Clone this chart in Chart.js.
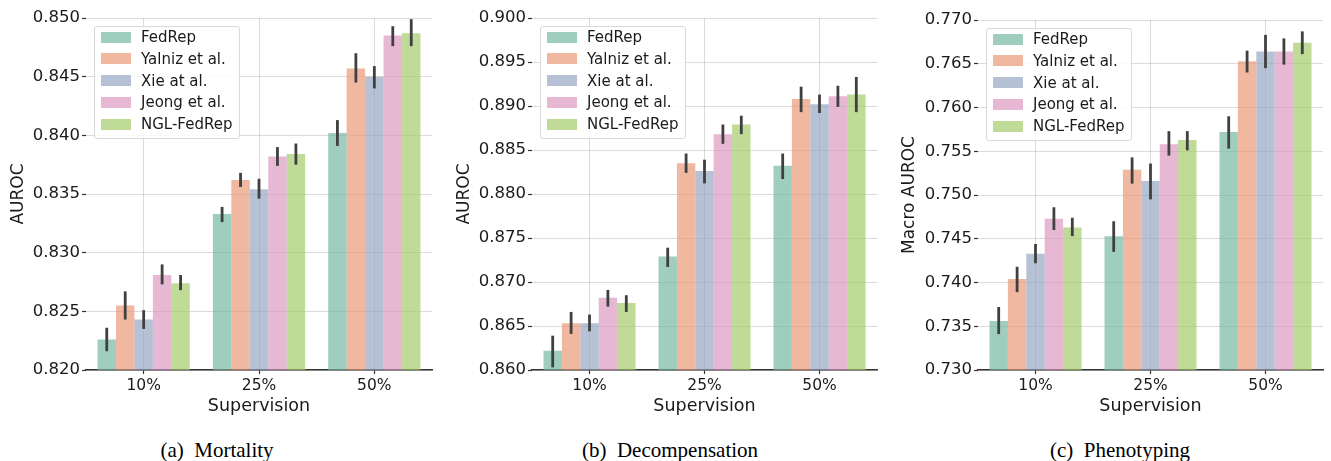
<!DOCTYPE html>
<html>
<head>
<meta charset="utf-8">
<script src="https://cdn.jsdelivr.net/npm/chart.js@4.4.0/dist/chart.umd.min.js"></script>
<style>
  body { margin: 0; background: #fff; width: 1331px; height: 461px; position: relative; overflow: hidden; font-family: "DejaVu Sans", sans-serif; }
  .panel { position: absolute; top: 0; height: 420px; }
  .legend { position: absolute; width: 146px; height: 113px; border: 1px solid #d9d9d9; border-radius: 3px; background: rgba(255,255,255,0.85); box-sizing: border-box; }
  .legend .sw { position: absolute; left: 6px; width: 30px; height: 11px; }
  .legend .tx { position: absolute; left: 46px; font-size: 15px; line-height: 18px; color: #1a1a1a; white-space: nowrap; }
  .caption { position: absolute; top: 439.7px; font: 21px "Liberation Serif", serif; line-height: 21px; white-space: pre; transform: translateX(-50%); color: #000; }
</style>
</head>
<body>
<div class="panel" style="left:0;width:440px"><canvas id="mortality"></canvas></div>
<div class="panel" style="left:440px;width:445px"><canvas id="decomp"></canvas></div>
<div class="panel" style="left:890px;width:441px"><canvas id="pheno"></canvas></div>
<div class="caption" style="left:217px">(a)  Mortality</div>
<div class="caption" style="left:670px">(b)  Decompensation</div>
<div class="caption" style="left:1120px">(c)  Phenotyping</div>

<script>
// categories and methods
const categories = ["10%", "25%", "50%"];
const methods = ["FedRep", "Yalniz et al.", "Xie at al.", "Jeong et al.", "NGL-FedRep"];
const colors = [
  "rgba(113,183,161,0.68)",
  "rgba(233,150,117,0.68)",
  "rgba(149,163,195,0.68)",
  "rgba(219,150,192,0.68)",
  "rgba(162,200,101,0.68)",
];

// (a) Mortality - one row per method
const mortalityMean = [
  [0.8226, 0.8333, 0.8402],
  [0.8255, 0.8362, 0.8457],
  [0.8243, 0.8354, 0.8450],
  [0.8281, 0.8382, 0.8485],
  [0.8274, 0.8384, 0.8487],
];
const mortalityLow = [
  [0.8216, 0.8326, 0.8391],
  [0.8243, 0.8356, 0.8445],
  [0.8235, 0.8346, 0.8440],
  [0.8273, 0.8374, 0.8476],
  [0.8268, 0.8375, 0.8476],
];
const mortalityHigh = [
  [0.8236, 0.8339, 0.8413],
  [0.8267, 0.8368, 0.8470],
  [0.8251, 0.8363, 0.8459],
  [0.8290, 0.8390, 0.8493],
  [0.8281, 0.8393, 0.8499],
];

// (b) Decompensation
const decompMean = [
  [0.8622, 0.8729, 0.8832],
  [0.8653, 0.8835, 0.8908],
  [0.8653, 0.8826, 0.8902],
  [0.8682, 0.8868, 0.8911],
  [0.8676, 0.8879, 0.8913],
];
const decompLow = [
  [0.8603, 0.8717, 0.8817],
  [0.8641, 0.8824, 0.8893],
  [0.8644, 0.8812, 0.8892],
  [0.8672, 0.8857, 0.8899],
  [0.8666, 0.8868, 0.8893],
];
const decompHigh = [
  [0.8639, 0.8739, 0.8846],
  [0.8666, 0.8846, 0.8922],
  [0.8663, 0.8839, 0.8913],
  [0.8691, 0.8879, 0.8923],
  [0.8685, 0.8889, 0.8933],
];

// (c) Phenotyping
const phenoMean = [
  [0.7356, 0.7453, 0.7572],
  [0.7404, 0.7529, 0.7653],
  [0.7433, 0.7516, 0.7664],
  [0.7473, 0.7558, 0.7664],
  [0.7463, 0.7563, 0.7674],
];
const phenoLow = [
  [0.7341, 0.7435, 0.7553],
  [0.7389, 0.7513, 0.7640],
  [0.7422, 0.7495, 0.7645],
  [0.7460, 0.7545, 0.7649],
  [0.7453, 0.7551, 0.7661],
];
const phenoHigh = [
  [0.7372, 0.7470, 0.7590],
  [0.7418, 0.7543, 0.7665],
  [0.7444, 0.7536, 0.7683],
  [0.7486, 0.7573, 0.7679],
  [0.7474, 0.7573, 0.7687],
];

// y axis ranges [min, max, step]
const mortalityRange = [0.82, 0.85, 0.005];
const decompRange = [0.86, 0.90, 0.005];
const phenoRange = [0.73, 0.77, 0.005];

// draws the confidence intervals on top of everything
const errorBars = {
  id: "errorBars",
  afterDraw(chart) {
    const ctx = chart.ctx;
    const y = chart.scales.y;
    ctx.save();
    ctx.strokeStyle = "#404040";
    ctx.lineWidth = 2.8;
    chart.data.datasets.forEach((ds, i) => {
      const meta = chart.getDatasetMeta(i);
      meta.data.forEach((bar, j) => {
        ctx.beginPath();
        ctx.moveTo(bar.x, y.getPixelForValue(ds.errLow[j]));
        ctx.lineTo(bar.x, y.getPixelForValue(ds.errHigh[j]));
        ctx.stroke();
      });
    });
    ctx.restore();
  },
};

function makeChart(id, mean, low, high, range, yTitle, yWidth, titlePad, padTop) {
  const ctx = document.getElementById(id).getContext("2d");
  const gridColor = "rgba(0,0,0,0.14)";
  const tickColor = "#333";
  const textColor = "#1a1a1a";

  new Chart(ctx, {
    type: "bar",
    data: {
      labels: categories,
      datasets: methods.map((m, i) => ({
        label: m,
        data: mean[i],
        errLow: low[i],
        errHigh: high[i],
        backgroundColor: colors[i],
        borderWidth: 0,
        categoryPercentage: 0.8,
        barPercentage: 1.0,
      })),
    },
    options: {
      responsive: true,
      maintainAspectRatio: false,
      animation: false,
      layout: { padding: { top: padTop, right: 8, left: 0, bottom: 0 } },
      plugins: { legend: { display: false }, tooltip: { enabled: false } },
      scales: {
        x: {
          z: 1,
          offset: true,
          grid: { offset: false, color: gridColor, tickColor: tickColor, tickLength: 4, tickWidth: 1.2 },
          border: { color: "#333", width: 1.5 },
          ticks: { color: textColor, font: { family: "DejaVu Sans", size: 15.5 }, padding: 3 },
          title: {
            display: true, text: "Supervision", color: textColor,
            font: { family: "DejaVu Sans", size: 17.5 }, padding: { top: 0, bottom: 3.5 },
          },
          afterFit: (s) => { s.height = 50; },
        },
        y: {
          z: 1,
          min: range[0],
          max: range[1],
          grid: { color: gridColor, tickColor: tickColor, tickLength: 4, tickWidth: 1.2 },
          border: { display: false },
          ticks: {
            stepSize: range[2],
            color: textColor,
            font: { family: "DejaVu Sans", size: 16.5 },
            padding: 2,
            callback: (v) => v.toFixed(3),
          },
          title: {
            display: true, text: yTitle, color: textColor,
            font: { family: "DejaVu Sans", size: 17 }, padding: { top: titlePad, bottom: 0 },
          },
          afterFit: (s) => { s.width = yWidth; },
        },
      },
    },
    plugins: [errorBars],
  });

  // legend box in the upper left of the plot area
  const panel = document.getElementById(id).parentNode;
  const box = document.createElement("div");
  box.className = "legend";
  box.style.left = (yWidth + 8) + "px";
  box.style.top = (padTop + 8) + "px";
  methods.forEach((m, i) => {
    const cy = 11 + i * 21.8;
    const sw = document.createElement("div");
    sw.className = "sw";
    sw.style.top = (cy - 6.5) + "px";
    sw.style.background = colors[i];
    const tx = document.createElement("div");
    tx.className = "tx";
    tx.style.top = (cy - 10) + "px";
    tx.textContent = m;
    box.appendChild(sw);
    box.appendChild(tx);
  });
  panel.appendChild(box);
}

makeChart("mortality", mortalityMean, mortalityLow, mortalityHigh, mortalityRange, "AUROC", 86, 8.3, 18);
makeChart("decomp", decompMean, decompLow, decompHigh, decompRange, "AUROC", 92, 14.8, 18);
makeChart("pheno", phenoMean, phenoLow, phenoHigh, phenoRange, "Macro AUROC", 88, 9.8, 20);
</script>
</body>
</html>
